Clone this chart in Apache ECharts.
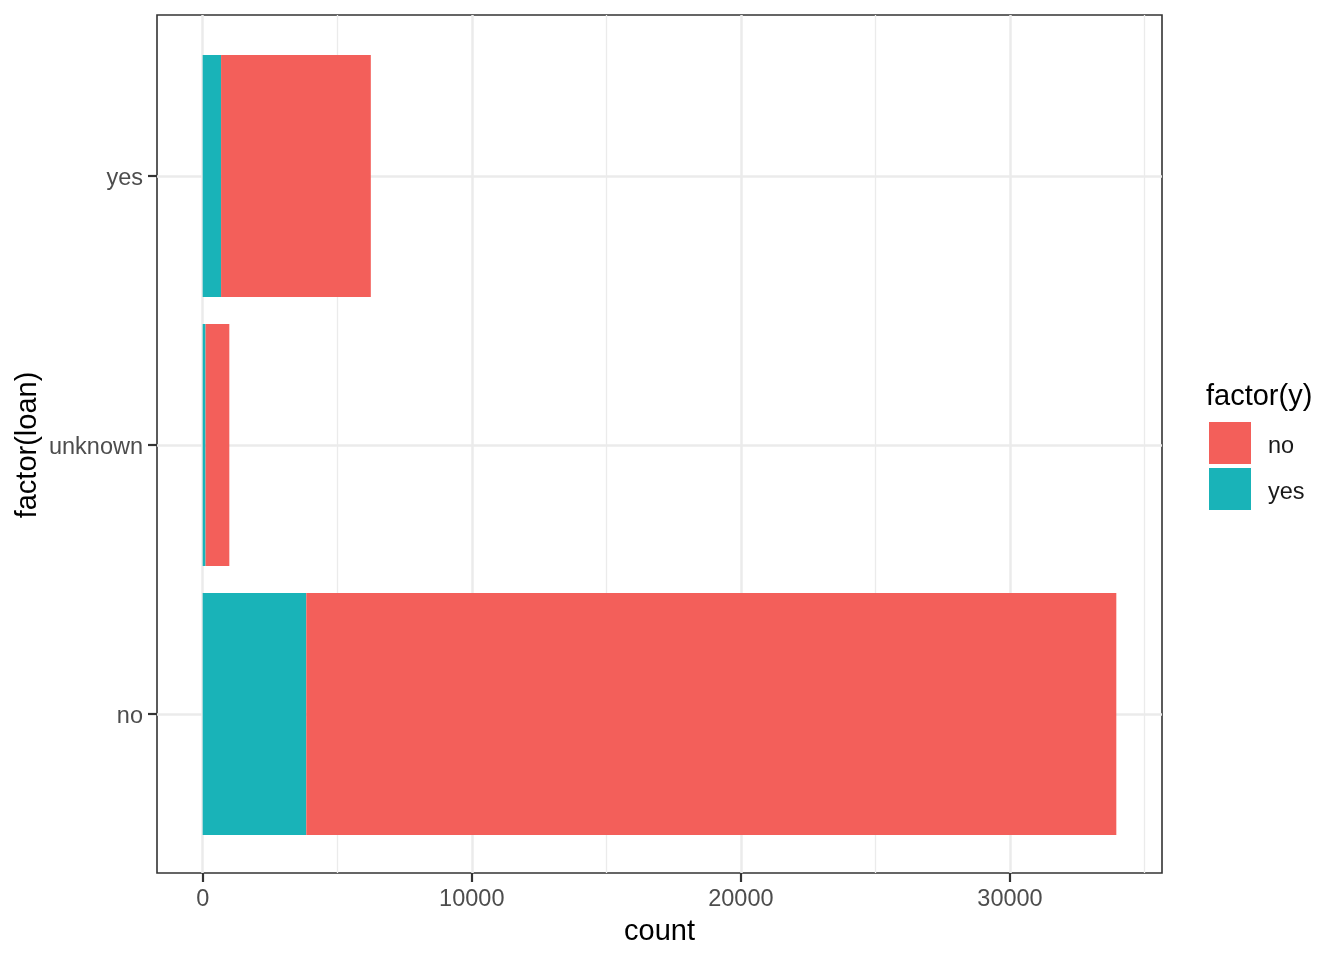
<!DOCTYPE html>
<html>
<head>
<meta charset="utf-8">
<script src="https://cdn.jsdelivr.net/npm/echarts@6/dist/echarts.min.js"></script>
<style>
  html, body { margin: 0; padding: 0; background: #fff; }
  #chart { width: 1344px; height: 960px; }
</style>
</head>
<body>
<div id="chart"></div>
<script>
const categories = ['no', 'unknown', 'yes'];
const yesCounts = [3850, 107, 683];
const noCounts = [30100, 883, 5565];
const xTicks = [0, 10000, 20000, 30000];
const xMinorTicks = [5000, 15000, 25000, 35000];
const xMin = -1697.5;
const xMax = 35647.5;

const FONT = '"Liberation Sans", Arial, Helvetica, sans-serif';
const RED = '#F35F5A';
const TEAL = '#19B3B8';
const GRID_COL = '#EBEBEB';

const chart = echarts.init(document.getElementById('chart'), null, { renderer: 'canvas' });

const gridLines = [];
xTicks.forEach(v => gridLines.push({ xAxis: v, lineStyle: { color: GRID_COL, width: 2.5, type: 'solid' } }));
xMinorTicks.forEach(v => gridLines.push({ xAxis: v, lineStyle: { color: GRID_COL, width: 1.3, type: 'solid' } }));

const option = {
  animation: false,
  textStyle: { fontFamily: FONT },
  title: {
    text: 'factor(y)',
    left: 1206,
    top: 382,
    padding: 0,
    textStyle: { fontFamily: FONT, fontSize: 29, fontWeight: 'normal', color: '#000' }
  },
  legend: {
    data: ['no', 'yes'],
    orient: 'vertical',
    left: 1209,
    top: 422,
    padding: 0,
    itemWidth: 42,
    itemHeight: 42,
    itemGap: 4,
    icon: 'rect',
    selectedMode: false,
    formatter: name => '{a|' + name + '}',
    textStyle: {
      fontFamily: FONT, fontSize: 23.5, color: '#1a1a1a',
      rich: { a: { fontFamily: FONT, fontSize: 23.5, color: '#1a1a1a', padding: [8, 0, 0, 12] } }
    }
  },
  grid: [
    { left: 157, top: 15, width: 1005, height: 858, show: true, borderColor: '#333', borderWidth: 1.6, backgroundColor: 'transparent', containLabel: false },
    { left: 157, top: 176, width: 1005, height: 538, containLabel: false }
  ],
  xAxis: [
    {
      gridIndex: 0, type: 'value', min: xMin, max: xMax,
      axisLine: { show: false, onZero: false },
      splitLine: { show: false },
      axisTick: { show: true, customValues: xTicks, length: 9, lineStyle: { color: '#333', width: 2.2 } },
      axisLabel: { show: true, customValues: xTicks, fontSize: 23.5, color: '#4D4D4D', margin: 15, fontFamily: FONT,
                   formatter: v => String(v) },
      name: 'count', nameLocation: 'middle', nameGap: 44, nameMoveOverlap: false,
      nameTextStyle: { fontSize: 29, color: '#000', fontFamily: FONT }
    },
    {
      gridIndex: 1, type: 'value', min: xMin, max: xMax, show: false,
      axisLine: { onZero: false },
      splitLine: { show: false }
    }
  ],
  yAxis: [
    { gridIndex: 0, type: 'value', min: 0, max: 1, show: false, axisLine: { onZero: false }, splitLine: { show: false } },
    {
      gridIndex: 1, type: 'category', data: categories, boundaryGap: false,
      axisLine: { show: false, onZero: false },
      axisTick: { show: true, length: 9, lineStyle: { color: '#333', width: 2.2 } },
      axisLabel: {
        fontSize: 23.5, color: '#4D4D4D', margin: 14, fontFamily: FONT,
        formatter: v => '{a|' + v + '}',
        rich: { a: { fontFamily: FONT, fontSize: 23.5, color: '#4D4D4D', padding: [6, 0, 0, 0] } }
      },
      splitLine: { show: true, lineStyle: { color: GRID_COL, width: 2.5 } },
      name: 'factor(loan)', nameLocation: 'middle', nameGap: 115, nameMoveOverlap: false,
      nameTextStyle: { fontSize: 29, color: '#000', fontFamily: FONT }
    }
  ],
  series: [
    {
      type: 'line', xAxisIndex: 0, yAxisIndex: 0, data: [], z: 1, silent: true,
      markLine: { silent: true, symbol: 'none', z: 1, label: { show: false }, animation: false, data: gridLines }
    },
    {
      name: 'yes', type: 'bar', stack: 'total', xAxisIndex: 1, yAxisIndex: 1,
      data: yesCounts, barWidth: 242, clip: false, z: 3,
      itemStyle: { color: TEAL }
    },
    {
      name: 'no', type: 'bar', stack: 'total', xAxisIndex: 1, yAxisIndex: 1,
      data: noCounts, barWidth: 242, clip: false, z: 3,
      itemStyle: { color: RED }
    }
  ]
};
chart.setOption(option);
</script>
</body>
</html>
